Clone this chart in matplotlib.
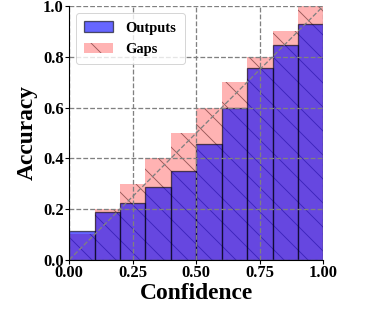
import numpy as np
import matplotlib.pyplot as plt

plt.rcParams['font.family'] = 'Liberation Serif'
plt.rcParams['font.weight'] = 'bold'
plt.rcParams['hatch.linewidth'] = 0.9

# bin edges and values
bin_left = [0.0, 0.1, 0.2, 0.3, 0.4, 0.5, 0.6, 0.7, 0.8, 0.9]
expected = [0.1, 0.2, 0.3, 0.4, 0.5, 0.6, 0.7, 0.8, 0.9, 1.0]
outputs = [0.112, 0.188, 0.223, 0.286, 0.350, 0.455, 0.600, 0.756, 0.846, 0.928]
width = 0.1

# drawn at 72 dpi so the hatch spacing matches the original
fig = plt.figure(figsize=(370 / 72, 334 / 72), dpi=72)
ax = fig.add_axes([0.187, 0.222, 0.687, 0.760])

gap_plt = ax.bar(bin_left, expected, width, align='edge', color=(1, 0.7, 0.7),
                 edgecolor=(0.6, 0.35, 0.35), linewidth=0, hatch='\\', label='Gaps')
out_plt = ax.bar(bin_left, outputs, width, align='edge', color='b', alpha=0.6,
                 edgecolor='black', linewidth=1.3, label='Outputs')

ax.plot([0, 1], [0, 1], linestyle='--', color='gray', linewidth=1.3)

ax.set_xlim(0, 1)
ax.set_ylim(0, 1)
ax.set_xticks([0, 0.25, 0.5, 0.75, 1.0])
ax.set_xticklabels(['0.00', '0.25', '0.50', '0.75', '1.00'])
ax.set_yticks([0, 0.2, 0.4, 0.6, 0.8, 1.0])
ax.set_yticklabels(['0.0', '0.2', '0.4', '0.6', '0.8', '1.0'])
ax.tick_params(labelsize=16.5, length=4, width=1.1, pad=1.5)
ax.grid(True, linestyle='--', color='gray', linewidth=1.3)
ax.spines['top'].set_visible(False)
ax.spines['right'].set_visible(False)
ax.spines['left'].set_linewidth(1.1)
ax.spines['bottom'].set_linewidth(1.1)

ax.set_xlabel('Confidence', fontsize=23.5, fontweight='bold', labelpad=2)
ax.set_ylabel('Accuracy', fontsize=23.5, fontweight='bold', labelpad=5)

ax.legend(handles=[out_plt, gap_plt], loc='upper left',
          prop={'weight': 'bold', 'size': 14.5}, handlelength=2.0,
          handleheight=0.75, handletextpad=0.85, labelspacing=0.55,
          borderpad=0.55, borderaxespad=0.5)

fig.savefig('out.png', dpi=72)
